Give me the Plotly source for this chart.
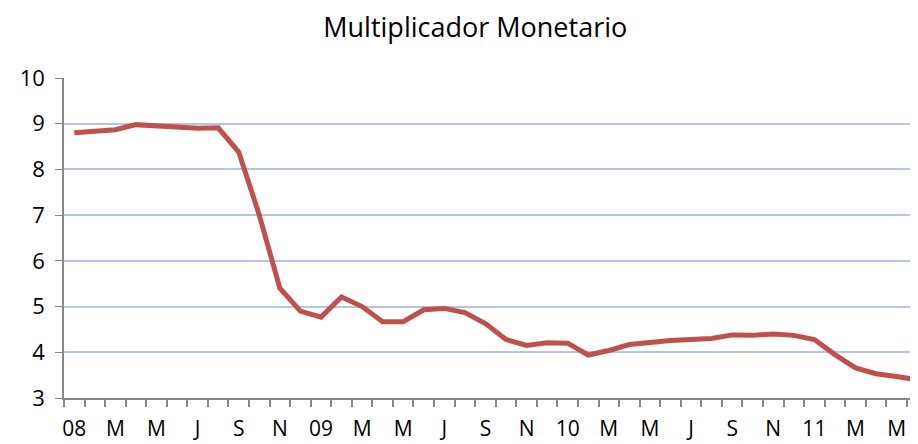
import plotly.graph_objects as go

# Monthly money multiplier, Jan 2008 - Jun 2011
months = list(range(42))
multiplier = [
    8.80, 8.83, 8.87, 8.98, 8.95, 8.93, 8.90, 8.91, 8.38, 7.00, 5.40, 4.90,
    4.77, 5.21, 5.00, 4.67, 4.67, 4.93, 4.96, 4.87, 4.63, 4.28, 4.15, 4.21,
    4.20, 3.94, 4.04, 4.17, 4.22, 4.26, 4.28, 4.30, 4.38, 4.37, 4.40, 4.37,
    4.28, 3.95, 3.66, 3.53, 3.47, 3.40,
]
tick_labels = ["08", "M", "M", "J", "S", "N", "09", "M", "M", "J", "S", "N",
               "10", "M", "M", "J", "S", "N", "11", "M", "M"]
tick_pos = list(range(0, 42, 2))

fig = go.Figure()
fig.add_trace(
    go.Scatter(
        x=months,
        y=multiplier,
        mode="lines",
        line=dict(color="#C0504D", width=5),
        showlegend=False,
    )
)

# page body has an 8px default margin, so margins are trimmed by 8
fig.update_layout(
    width=918,
    height=444,
    margin=dict(l=56, r=0, t=70, b=54),
    paper_bgcolor="white",
    plot_bgcolor="white",
    font=dict(family="Open Sans, sans-serif", size=22, color="#000000"),
    title=dict(
        text="Multiplicador Monetario",
        x=0.509,
        xanchor="center",
        y=0.957,
        yanchor="middle",
        yref="container",
        font=dict(size=27, color="#000000"),
    ),
    xaxis=dict(
        range=[-0.5, 41.43],
        tickvals=tick_pos,
        ticktext=tick_labels,
        ticks="",
        ticklabelstandoff=11,
        tickfont=dict(size=21),
        automargin=False,
        showgrid=False,
        showline=True,
        linecolor="#868686",
        linewidth=1.5,
        zeroline=False,
        minor=dict(tick0=-0.5, dtick=1, ticks="outside", ticklen=7,
                   tickcolor="#868686", tickwidth=1.5, showgrid=False),
    ),
    yaxis=dict(
        range=[3, 10],
        dtick=1,
        automargin=False,
        showgrid=True,
        gridcolor="#B3C7E3",
        gridwidth=1.5,
        showline=True,
        linecolor="#868686",
        linewidth=1.5,
        ticks="outside",
        ticklen=7,
        tickcolor="#868686",
        ticklabelstandoff=6,
        zeroline=False,
    ),
)

fig.write_html("out.html")
